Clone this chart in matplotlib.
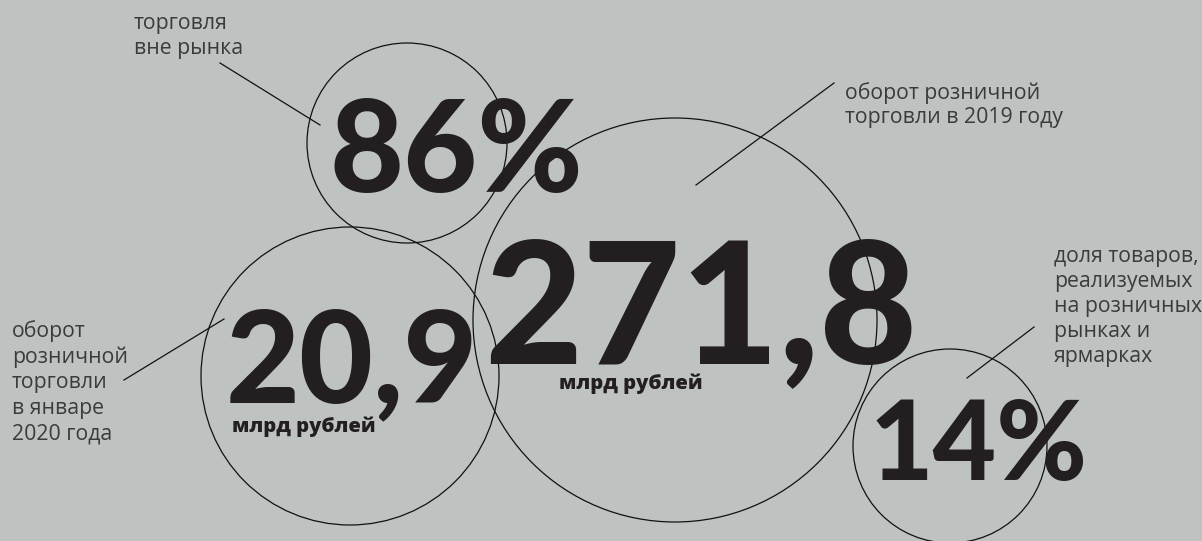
import matplotlib
matplotlib.use("Agg")
import matplotlib.pyplot as plt
from matplotlib.patches import Circle

# ---- data ----
values = ["86%", "271,8", "20,9", "14%"]
units = ["", "млрд рублей", "млрд рублей", ""]
labels = [
    "торговля\nвне рынка",
    "оборот розничной\nторговли в 2019 году",
    "оборот\nрозничной\nторговли\nв январе\n2020 года",
    "доля товаров,\nреализуемых\nна розничных\nрынках и\nярмарках",
]

# ---- layout (pixel coordinates, y downwards) ----
W, H = 1202, 541
circles = [(407, 143, 100), (675, 320, 202), (350, 376, 149), (950, 446, 97)]
value_pos = [(330, 192), (484, 363), (226, 402), (870, 480)]
value_size = [92, 122, 92, 79]
unit_pos = [None, (559, 389), (232, 432), None]
# baseline of the LAST line of each label
label_pos = [(134, 54), (845, 123), (12, 439), (1054, 362)]
label_ls = [1.26, 1.17, 1.27, 1.25]
leaders = [((220, 63), (320, 125)), ((834, 83), (696, 185)),
           ((124, 380), (224, 319)), ((1034, 327), (967, 378))]

bg = "#bec2c1"
ink = "#231f20"
label_col = "#3b3b3b"

fig = plt.figure(figsize=(W / 100, H / 100), dpi=100, facecolor=bg)
ax = fig.add_axes([0, 0, 1, 1])
ax.set_facecolor(bg)
ax.set_xlim(0, W)
ax.set_ylim(H, 0)
ax.set_aspect("equal")
ax.axis("off")

for (cx, cy, r) in circles:
    ax.add_patch(Circle((cx, cy), r, fill=False, ec="#111111", lw=0.9, zorder=2))

for (p0, p1) in leaders:
    ax.plot([p0[0], p1[0]], [p0[1], p1[1]], color="#111111", lw=0.9, zorder=2)

for v, (x, y), s in zip(values, value_pos, value_size):
    ax.text(x, y, v, fontsize=s, color=ink, ha="left", va="baseline",
            family=["Lato", "Roboto", "DejaVu Sans"], fontweight="black", zorder=3)

for u, pos in zip(units, unit_pos):
    if u and pos:
        ax.text(pos[0], pos[1], u, fontsize=14.5, color=ink, ha="left", va="baseline",
                family=["Open Sans", "DejaVu Sans"], fontweight="heavy", zorder=3)

for t, (x, y), ls in zip(labels, label_pos, label_ls):
    ax.text(x, y, t, fontsize=15.3, color=label_col, ha="left", va="baseline",
            family=["Open Sans", "DejaVu Sans"], linespacing=ls, zorder=3)

fig.savefig("out.png", dpi=100, facecolor=bg)
